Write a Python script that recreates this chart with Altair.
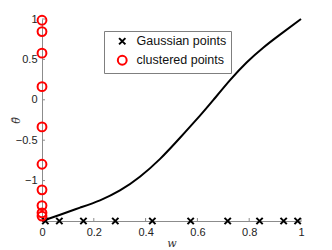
import altair as alt
import pandas as pd

# Gaussian points (on the w axis)
gauss_w = [0.013, 0.067, 0.160, 0.283, 0.426, 0.574, 0.717, 0.840, 0.933, 0.987]
gauss_theta = [-1.5] * 10
# clustered points (on the theta axis)
clustered_w = [0.0] * 10
clustered_theta = [0.985, 0.844, 0.577, 0.163, -0.336, -0.798, -1.114, -1.309, -1.399, -1.439]
# mapping curve
curve_w = [0.0, 0.07, 0.147, 0.224, 0.301, 0.378, 0.456, 0.533, 0.61, 0.661, 0.726,
           0.79, 0.854, 0.919, 1.0]
curve_theta = [-1.5, -1.422, -1.335, -1.244, -1.122, -0.952, -0.731, -0.47, -0.196,
               -0.005, 0.243, 0.462, 0.645, 0.807, 1.0]

x_ticks = [0, 0.2, 0.4, 0.6, 0.8, 1]
y_ticks = [-1, -0.5, 0, 0.5, 1]

series_names = ["Gaussian points", "clustered points"]

pts = pd.DataFrame({
    "w": gauss_w + clustered_w,
    "theta": gauss_theta + clustered_theta,
    "series": [series_names[0]] * len(gauss_w) + [series_names[1]] * len(clustered_w),
})
curve = pd.DataFrame({"w": curve_w, "theta": curve_theta})
xt = pd.DataFrame({"w": x_ticks})
yt = pd.DataFrame({"theta": y_ticks})

W, H = 259, 202
FONT = "Liberation Sans"
AX = "#8c8c8c"
xscale = alt.Scale(domain=[0, 1], nice=False, zero=False)
yscale = alt.Scale(domain=[-1.5, 1], nice=False, zero=False)

xaxis = alt.Axis(values=x_ticks, format="~g", grid=False, ticks=False,
                 domainColor=AX, labelFont=FONT, labelFontSize=11, labelColor="#222222",
                 labelPadding=5, labelFlush=False,
                 title="w", titleFont="DejaVu Serif", titleFontStyle="italic",
                 titleFontWeight="normal", titleFontSize=11, titleColor="#333333",
                 titlePadding=0)
yaxis = alt.Axis(values=y_ticks, format="~g", grid=False, ticks=False,
                 domainColor=AX, labelFont=FONT, labelFontSize=11, labelColor="#222222",
                 labelPadding=5, labelFlush=False,
                 title="θ̄", titleFont="DejaVu Serif", titleFontStyle="italic",
                 titleFontWeight="normal", titleFontSize=11, titleColor="#333333",
                 titleX=-21, titleY=H / 2, titleAngle=-90)

line = alt.Chart(curve).mark_line(color="black", strokeWidth=2, interpolate="natural").encode(
    x=alt.X("w:Q", scale=xscale, axis=xaxis),
    y=alt.Y("theta:Q", scale=yscale, axis=yaxis),
)

xtick_rules = alt.Chart(xt).mark_rule(color=AX, strokeWidth=1).encode(
    x=alt.X("w:Q", scale=xscale), y=alt.value(H), y2=alt.value(H - 3))
ytick_rules = alt.Chart(yt).mark_rule(color=AX, strokeWidth=1).encode(
    y=alt.Y("theta:Q", scale=yscale), x=alt.value(0), x2=alt.value(3))

xpath = "M-1,-1L1,1M1,-1L-1,1"
points = alt.Chart(pts).mark_point(filled=False, strokeWidth=2, opacity=1).encode(
    x=alt.X("w:Q", scale=xscale),
    y=alt.Y("theta:Q", scale=yscale),
    shape=alt.Shape("series:N", scale=alt.Scale(domain=series_names, range=[xpath, "circle"]),
                    legend=alt.Legend(title=None)),
    color=alt.Color("series:N", scale=alt.Scale(domain=series_names, range=["black", "#ff0000"]),
                    legend=alt.Legend(title=None)),
    size=alt.Size("series:N", scale=alt.Scale(domain=series_names, range=[40, 78]),
                  legend=alt.Legend(title=None)),
)

chart = alt.layer(xtick_rules, ytick_rules, line, points).properties(
    width=W, height=H,
    autosize=alt.AutoSizeParams(type="none"),
    padding={"left": 34, "top": 11, "right": 23, "bottom": 29},
).configure_view(stroke=None).configure_legend(
    orient="none", legendX=62, legendY=12,
    strokeColor="#7f7f7f", fillColor="white", padding=4, cornerRadius=0,
    labelFont=FONT, labelFontSize=12.5, labelColor="#111111",
    symbolStrokeWidth=2, rowPadding=2, labelOffset=8, symbolOffset=8,
)

chart.save("out.html", embed_options={"renderer": "svg", "actions": False})
